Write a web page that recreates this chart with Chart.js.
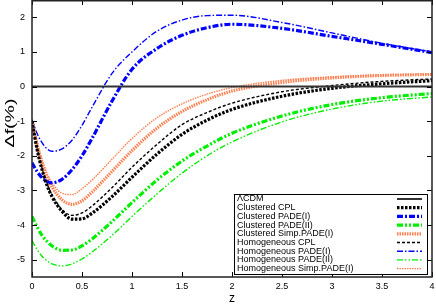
<!DOCTYPE html>
<html><head><meta charset="utf-8">
<script src="https://cdn.jsdelivr.net/npm/chart.js@4"></script>
<style>html,body{margin:0;padding:0;background:#fff}</style>
</head><body>
<canvas id="c" width="436" height="304"></canvas>
<script>
// ---- data ----
const z = [0, 0.05, 0.1, 0.15, 0.2, 0.3, 0.4, 0.5, 0.6, 0.8, 1.0, 1.25, 1.5, 1.75, 2.0, 2.5, 3.0, 3.5, 4.0];
const lcdm        = [0,0,0,0,0,0,0,0,0,0,0,0,0,0,0,0,0,0,0];
const clustCPL    = [-1.0,-1.8,-2.4,-2.85,-3.18,-3.6,-3.83,-3.82,-3.66,-3.18,-2.62,-1.95,-1.38,-0.97,-0.66,-0.28,-0.05,0.08,0.17];
const clustPade1  = [-2.2,-2.45,-2.63,-2.74,-2.78,-2.68,-2.4,-2.0,-1.5,-0.42,0.5,1.1,1.48,1.7,1.8,1.68,1.45,1.22,0.98];
const clustPade2  = [-3.75,-4.05,-4.3,-4.47,-4.6,-4.73,-4.72,-4.6,-4.4,-3.9,-3.35,-2.7,-2.15,-1.72,-1.35,-0.85,-0.52,-0.32,-0.2];
const clustSimp   = [-1.0,-1.65,-2.2,-2.6,-2.9,-3.27,-3.4,-3.3,-3.05,-2.45,-1.85,-1.2,-0.72,-0.38,-0.13,0.12,0.25,0.32,0.35];
const homCPL      = [-1.0,-1.75,-2.35,-2.8,-3.12,-3.55,-3.72,-3.65,-3.45,-2.92,-2.33,-1.67,-1.1,-0.75,-0.48,-0.15,0.03,0.15,0.22];
const homPade1    = [-0.95,-1.35,-1.62,-1.8,-1.87,-1.8,-1.55,-1.12,-0.6,0.38,1.0,1.6,1.92,2.05,2.06,1.85,1.55,1.25,1.0];
const homPade2    = [-4.45,-4.7,-4.9,-5.03,-5.12,-5.18,-5.12,-4.98,-4.78,-4.3,-3.75,-3.1,-2.5,-2.0,-1.6,-1.02,-0.65,-0.42,-0.3];
const homSimp     = [-1.0,-1.6,-2.1,-2.5,-2.78,-3.08,-3.12,-2.95,-2.7,-2.1,-1.5,-0.9,-0.5,-0.22,-0.03,0.18,0.28,0.33,0.36];
const seriesNames = ['\u039bCDM','Clustered CPL','Clustered PADE(I)','Clustered PADE(II)','Clustered Simp.PADE(I)',
                     'Homogeneous CPL','Homogeneous PADE(I)','Homogeneous PADE(II)','Homogeneous Simp.PADE(I)'];
const xTicks = [0, 0.5, 1, 1.5, 2, 2.5, 3, 3.5, 4];
const xTickLabels = ['0','0.5','1','1.5','2','2.5','3','3.5','4'];
const yTicks = [-5, -4, -3, -2, -1, 0, 1, 2];
const yTickLabels = ['-5','-4','-3','-2','-1','0','1','2'];
const xTitle = 'z';
const yTitle = '\u0394f(%)';

// ---- styles ----
const series = [lcdm, clustCPL, clustPade1, clustPade2, clustSimp, homCPL, homPade1, homPade2, homSimp];
const styles = [
  {c:'#333333', w:2,   d:[]},
  {c:'#000000', w:3.2, d:[2.5,1.5]},
  {c:'#0000ff', w:3.2, d:[6,2,2,2]},
  {c:'#00ee00', w:3.2, d:[6,2,2,2,2,2]},
  {c:'#ff7f50', w:3.2, d:[1.5,1]},
  {c:'#000000', w:1.4, d:[3,2]},
  {c:'#0000ff', w:1.4, d:[6,2,1.5,2]},
  {c:'#00ee00', w:1.4, d:[6,2,1.5,2,1.5,2]},
  {c:'#ff7f50', w:1.4, d:[1.5,1]}
];
const datasets = series.map((arr, i) => ({
  label: seriesNames[i],
  data: z.map((x, j) => ({x: x, y: arr[j]})),
  borderColor: styles[i].c,
  borderWidth: styles[i].w,
  borderDash: styles[i].d,
  pointRadius: 0,
  fill: false,
  cubicInterpolationMode: 'monotone'
}));

const FONT = 'Liberation Sans, Arial, sans-serif';

const frame = {
  id: 'frame',
  afterDatasetsDraw(chart) {
    const {ctx, chartArea: a, scales} = chart;
    ctx.save();
    ctx.strokeStyle = '#000';
    ctx.lineWidth = 1;
    ctx.beginPath();
    const L = 5;
    xTicks.forEach(v => {
      const px = Math.round(scales.x.getPixelForValue(v)) + 0.5;
      ctx.moveTo(px, a.bottom); ctx.lineTo(px, a.bottom - L);
      ctx.moveTo(px, a.top); ctx.lineTo(px, a.top + L);
    });
    yTicks.forEach(v => {
      const py = Math.round(scales.y.getPixelForValue(v)) + 0.5;
      ctx.moveTo(a.left, py); ctx.lineTo(a.left + L, py);
      ctx.moveTo(a.right, py); ctx.lineTo(a.right - L, py);
    });
    ctx.stroke();
    ctx.strokeStyle = '#222';
    ctx.lineWidth = 1.5;
    ctx.strokeRect(a.left, a.top + 0.75, a.right - a.left, a.bottom - a.top - 0.75);

    // y title (stretched along the axis like the original)
    ctx.save();
    ctx.translate(10, 123);
    ctx.rotate(-Math.PI / 2);
    ctx.scale(1.5, 1);
    ctx.font = '13px ' + FONT;
    ctx.fillStyle = '#000';
    ctx.textAlign = 'center';
    ctx.textBaseline = 'middle';
    ctx.fillText(yTitle, 0, 0);
    ctx.restore();

    // legend
    const bx = 234, by = 194, bw = a.right - 5 - bx, bh = a.bottom - 3 - by;
    ctx.fillStyle = '#fff';
    ctx.fillRect(bx, by, bw, bh);
    ctx.strokeStyle = '#000';
    ctx.lineWidth = 1;
    ctx.strokeRect(bx + 0.5, by + 0.5, bw, bh);
    ctx.font = '9px ' + FONT;
    ctx.textBaseline = 'middle';
    ctx.textAlign = 'left';
    chart.data.datasets.forEach((ds, i) => {
      const y = by + 5 + i * 8.7;
      ctx.fillStyle = '#000';
      ctx.fillText(ds.label, bx + 3, y);
      ctx.beginPath();
      ctx.strokeStyle = ds.borderColor;
      ctx.lineWidth = ds.borderWidth;
      ctx.setLineDash(ds.borderDash);
      ctx.moveTo(bx + bw - 30, y); ctx.lineTo(bx + bw - 5, y);
      ctx.stroke();
      ctx.setLineDash([]);
    });
    ctx.restore();
  }
};

new Chart(document.getElementById('c'), {
  type: 'line',
  data: {datasets},
  options: {
    responsive: false,
    animation: false,
    devicePixelRatio: 1,
    layout: {padding: {top: 0, right: 4, left: 0, bottom: 0}},
    plugins: {legend: {display: false}, tooltip: {enabled: false}},
    scales: {
      x: {
        type: 'linear', min: 0, max: 4,
        afterBuildTicks: s => { s.ticks = xTicks.map(v => ({value: v})); },
        afterFit: s => { s.height = 27; s.paddingLeft = 0; s.paddingRight = 0; },
        grid: {display: false, drawTicks: false}, border: {display: false},
        ticks: {color: '#000', font: {family: FONT, size: 9}, padding: 4,
                callback: (v) => xTickLabels[xTicks.indexOf(v)], maxRotation: 0},
        title: {display: true, text: xTitle, color: '#000', font: {family: FONT, size: 12}, padding: {top: 0, bottom: -2}}
      },
      y: {
        type: 'linear', min: -5.5, max: 2.5,
        afterBuildTicks: s => { s.ticks = yTicks.map(v => ({value: v})); },
        afterFit: s => { s.width = 32; s.paddingTop = 0; s.paddingBottom = 0; },
        grid: {display: false, drawTicks: false}, border: {display: false},
        ticks: {color: '#000', font: {family: FONT, size: 9}, padding: 7,
                callback: (v) => yTickLabels[yTicks.indexOf(v)]}
      }
    }
  },
  plugins: [frame]
});
</script>
</body></html>
